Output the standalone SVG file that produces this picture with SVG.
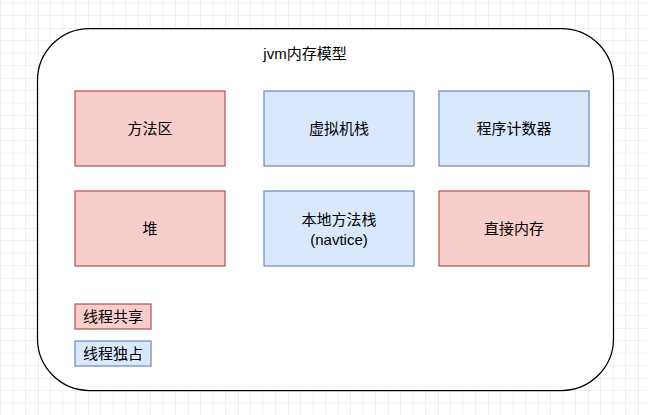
<svg xmlns="http://www.w3.org/2000/svg" width="648" height="415" viewBox="0 0 648 415">
<style>
text{font-family:"Liberation Sans","Noto Sans CJK SC",sans-serif;font-size:15px;fill:#000;text-anchor:middle}
.shared{fill:#f8cecc;stroke:#b85450;stroke-width:1.25}
.own{fill:#dae8fc;stroke:#6c8ebf;stroke-width:1.25}
</style>
<defs>
<pattern id="grid" x="38" y="28" width="50" height="50" patternUnits="userSpaceOnUse">
<path d="M12.5 0V50M25 0V50M37.5 0V50M0 12.5H50M0 25H50M0 37.5H50" stroke="#f0f0f0" stroke-width="1" fill="none"/>
<path d="M0 0V50M0 0H50" stroke="#e0e0e0" stroke-width="1" fill="none"/>
</pattern>
</defs>
<rect x="0" y="0" width="648" height="415" fill="#fff"/>
<rect x="0" y="0" width="648" height="415" fill="url(#grid)"/>
<g id="container">
<rect x="37.5" y="28.5" width="576" height="362" rx="52" ry="52" fill="#fff" stroke="#000" stroke-width="1.25"/>
<text x="305" y="59">jvm内存模型</text>
</g>
<g id="connectors"></g>
<g id="method-area"><rect class="shared" x="75" y="91" width="150" height="75"/><text x="150" y="134">方法区</text></g>
<g id="vm-stack"><rect class="own" x="264" y="91" width="150" height="75"/><text x="339" y="134">虚拟机栈</text></g>
<g id="pc"><rect class="own" x="439" y="91" width="150" height="75"/><text x="514" y="134">程序计数器</text></g>
<g id="heap"><rect class="shared" x="75" y="191" width="150" height="75"/><text x="150" y="234">堆</text></g>
<g id="native-stack"><rect class="own" x="264" y="191" width="150" height="75"/><text x="339" y="225">本地方法栈</text><text x="339" y="245">(navtice)</text></g>
<g id="direct-memory"><rect class="shared" x="439" y="191" width="150" height="75"/><text x="514" y="234">直接内存</text></g>
<g id="legend-shared"><rect class="shared" x="75" y="304" width="76" height="25"/><text x="113" y="322">线程共享</text></g>
<g id="legend-own"><rect class="own" x="75" y="341" width="76" height="25"/><text x="113" y="359">线程独占</text></g>
</svg>
